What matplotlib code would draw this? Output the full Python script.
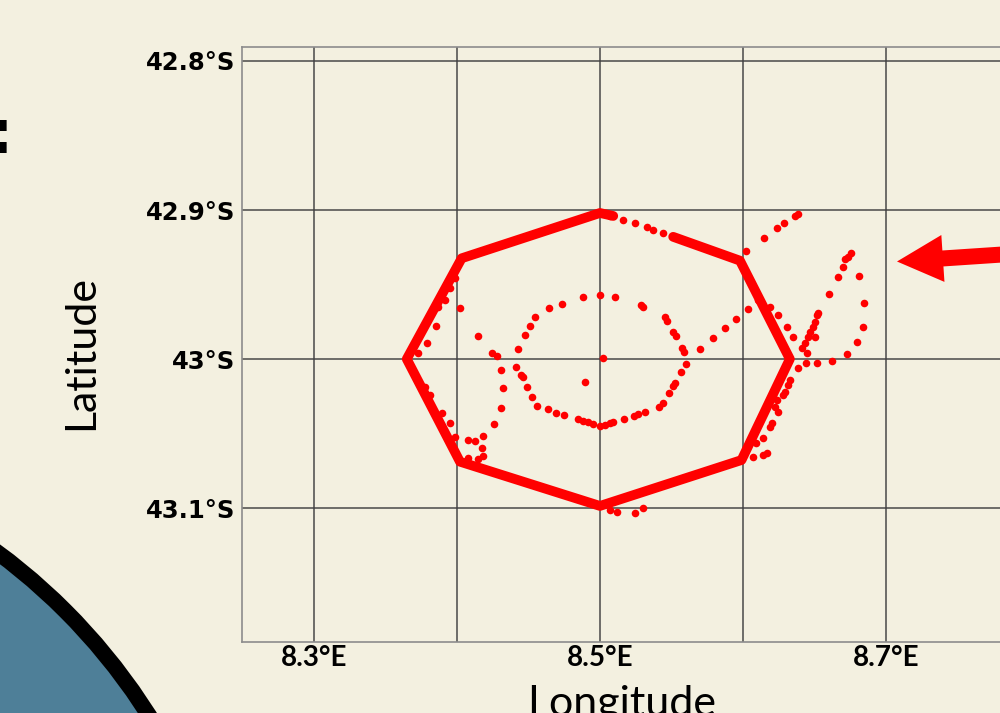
import numpy as np
import matplotlib.pyplot as plt
from matplotlib.patches import Circle, FancyArrow

# main track (waypoints of the octagon survey pattern)
track_lon = [8.5512, 8.5979, 8.6328, 8.5990, 8.5000, 8.4021, 8.3649, 8.4033, 8.5000, 8.5093]
track_lat = [-42.918, -42.934, -43.000, -43.0678, -43.0986, -43.0689, -43.000, -42.9324, -42.902, -42.904]

# inner ring of fixes
ring_lon = [8.4736, 8.4879, 8.5000, 8.5105, 8.5287, 8.5301, 8.5456, 8.5468, 8.5512, 8.5529,
            8.5573, 8.5585, 8.5599, 8.5564, 8.5524, 8.5512, 8.5482, 8.5438, 8.5410, 8.5315,
            8.5268, 8.5238, 8.5170, 8.5093, 8.5070, 8.5035, 8.5000, 8.4953, 8.4918, 8.4883,
            8.4848, 8.4750, 8.4692, 8.4639, 8.4558, 8.4523, 8.4488, 8.4460, 8.4446, 8.4413,
            8.4427, 8.4474, 8.4511, 8.4548, 8.4646, 8.5019, 8.4893]
ring_lat = [-42.9631, -42.9586, -42.9571, -42.9582, -42.9636, -42.9649, -42.9720, -42.9743, -42.9817, -42.9846,
            -42.9928, -42.9951, -43.0036, -43.0087, -43.0163, -43.0181, -43.0230, -43.0293, -43.0320, -43.0354,
            -43.0369, -43.0382, -43.0401, -43.0421, -43.0431, -43.0443, -43.0450, -43.0436, -43.0421, -43.0414,
            -43.0403, -43.0378, -43.0360, -43.0338, -43.0315, -43.0253, -43.0186, -43.0123, -43.0107, -43.0052,
            -42.9931, -42.9839, -42.9779, -42.9716, -42.9660, -42.9991, -43.0152]

# western side stray fixes
west_lon = [8.4021, 8.4145, 8.4243, 8.4282, 8.4306, 8.4320, 8.4306, 8.4261, 8.4184, 8.4126,
            8.4079, 8.4173, 8.4184, 8.4149, 8.4079, 8.3986, 8.3951, 8.3893, 8.3812, 8.3777,
            8.3730, 8.3789, 8.3854, 8.3870, 8.3917, 8.3951, 8.3986]
west_lat = [-42.9660, -42.9846, -42.9962, -42.9978, -43.0074, -43.0197, -43.0331, -43.0436, -43.0517, -43.0548,
            -43.0544, -43.0599, -43.0649, -43.0673, -43.0666, -43.0521, -43.0431, -43.0360, -43.0242, -43.0186,
            -42.9962, -42.9891, -42.9779, -42.9649, -42.9604, -42.9526, -42.9459]

# eastern side stray fixes (trails and loop)
east_lon = [8.5699, 8.5792, 8.5874, 8.5951, 8.6032, 8.6102, 8.6188, 8.6246, 8.6309, 8.6347,
            8.6018, 8.6148, 8.6235, 8.6288, 8.6363, 8.6382,
            8.6754, 8.6736, 8.6717, 8.6701, 8.6662, 8.6601, 8.6526, 8.6515, 8.6503, 8.6487,
            8.6468, 8.6456, 8.6433, 8.6410, 8.6445, 8.6503, 8.6813, 8.6845, 8.6840, 8.6799,
            8.6729, 8.6624, 8.6515, 8.6440, 8.6386,
            8.6328, 8.6316, 8.6293, 8.6281, 8.6235, 8.6223, 8.6246, 8.6200, 8.6188, 8.6141,
            8.6090, 8.6165, 8.6141, 8.6072,
            8.5070, 8.5163, 8.5245, 8.5326, 8.5373, 8.5442,
            8.5070, 8.5117, 8.5245, 8.5303]
east_lat = [-42.9935, -42.9861, -42.9790, -42.9734, -42.9667, -42.9604, -42.9653, -42.9705, -42.9787, -42.9850,
            -42.9275, -42.9186, -42.9123, -42.9089, -42.9040, -42.9027,
            -42.9291, -42.9314, -42.9331, -42.9381, -42.9452, -42.9566, -42.9689, -42.9705, -42.9750, -42.9783,
            -42.9817, -42.9850, -42.9895, -42.9928, -42.9962, -42.9850, -42.9443, -42.9626, -42.9783, -42.9884,
            -42.9966, -43.0011, -43.0029, -43.0025, -43.0062,
            -43.0141, -43.0174, -43.0219, -43.0242, -43.0275, -43.0320, -43.0354, -43.0431, -43.0454, -43.0532,
            -43.0566, -43.0633, -43.0644, -43.0656,
            -42.9040, -42.9067, -42.9089, -42.9116, -42.9134, -42.9153,
            -43.1013, -43.1025, -43.1031, -43.1002]

lon_ticks = [8.3, 8.4, 8.5, 8.6, 8.7, 8.8]
lon_labels = ["8.3°E", "", "8.5°E", "", "8.7°E", ""]
lat_ticks = [-43.1, -43.0, -42.9, -42.8]
lat_labels = ["43.1°S", "43°S", "42.9°S", "42.8°S"]

bg = "#f3f0e0"
fig = plt.figure(figsize=(10, 7.13), dpi=100, facecolor=bg)

ax = fig.add_axes([0.242, 0.0996, 0.808, 0.8345], facecolor=bg)
ax.plot(track_lon, track_lat, color="red", lw=7, solid_joinstyle="round",
        solid_capstyle="round", zorder=3)
dots_lon = ring_lon + west_lon + east_lon
dots_lat = ring_lat + west_lat + east_lat
ax.scatter(dots_lon, dots_lat, s=30, color="red", linewidths=0, zorder=4)

ax.set_xlim(8.2497, 8.8147)
ax.set_ylim(-43.1899, -42.7906)
ax.set_xticks(lon_ticks)
ax.set_xticklabels(lon_labels, family="Lato", fontweight="bold", fontsize=20)
ax.set_yticks(lat_ticks)
ax.set_yticklabels(lat_labels, family="DejaVu Sans", fontweight="bold", fontsize=17.5)
ax.tick_params(length=0, pad=5)
ax.tick_params(axis="x", pad=2)
ax.grid(True, color="#404040", lw=1.4, alpha=0.75, zorder=1)
ax.set_axisbelow(True)
for s in ax.spines.values():
    s.set_color("#8c8c8c")
    s.set_linewidth(1.2)

fig.text(0.081, 0.506, "Latitude", rotation=90, family="Lato", fontsize=31,
         ha="center", va="center")
fig.text(0.622, -0.004, "Longitude", family="Lato", fontsize=31,
         ha="center", va="baseline")
fig.text(0.0, 0.808, ":", fontsize=44, fontweight="bold", ha="center", va="center")

# overlay in pixel space for slide decorations
over = fig.add_axes([0, 0, 1, 1], facecolor="none", zorder=5)
over.set_xlim(0, 1000)
over.set_ylim(713, 0)
over.axis("off")
over.add_patch(Circle((-364, 1040), 607, facecolor="#4e7f98", edgecolor="black", lw=11.5))
over.add_patch(FancyArrow(1010, 254, -113, 7.5, width=16, head_width=47, head_length=46,
                          length_includes_head=True, color="red", lw=0))

fig.savefig("out.png", dpi=100, facecolor=bg)
